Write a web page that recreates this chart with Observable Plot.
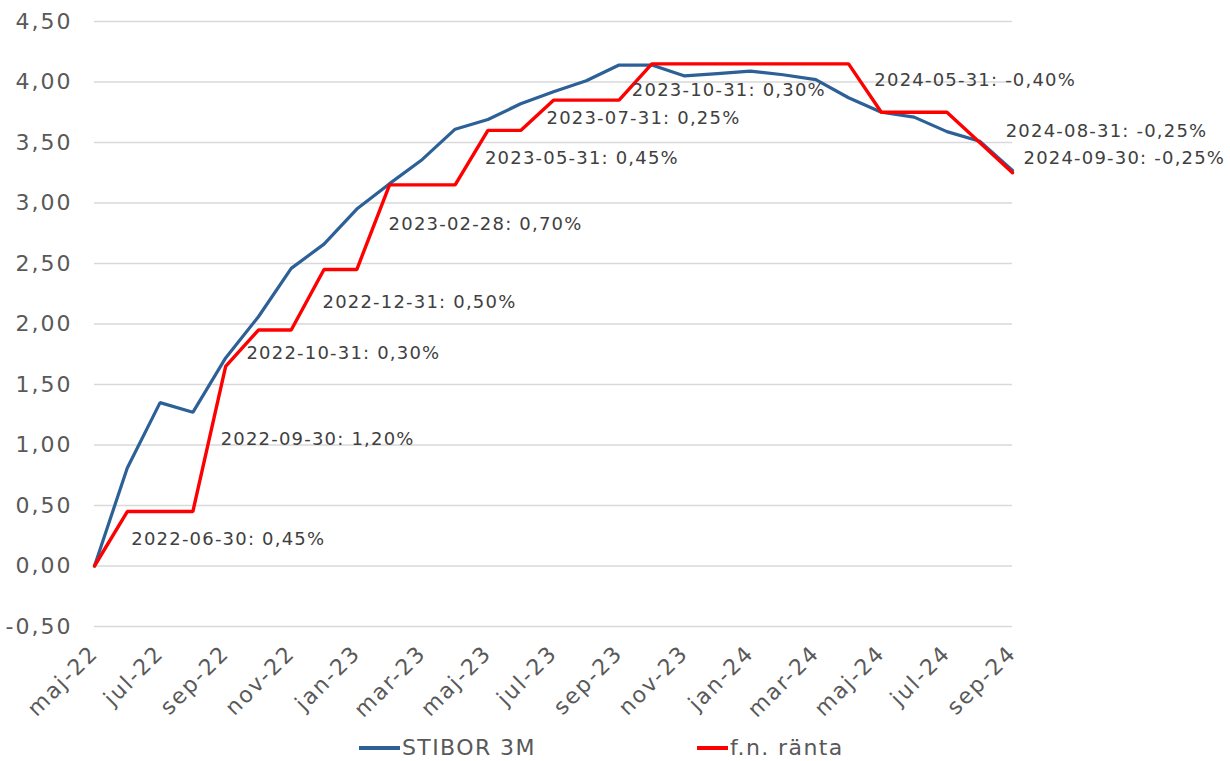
<!DOCTYPE html>
<html>
<head>
<meta charset="utf-8">
<script src="https://cdn.jsdelivr.net/npm/d3@7"></script>
<script src="https://cdn.jsdelivr.net/npm/@observablehq/plot@0.6"></script>
<style>
  html, body { margin: 0; padding: 0; background: #fff; overflow: hidden; }
  #wrap { position: relative; width: 1230px; height: 761px; font-family: "DejaVu Sans", sans-serif; }
  #chart svg { display: block; }
  g[aria-label="y-axis tick label"] text,
  g[aria-label="x-axis tick label"] text { letter-spacing: 2px; }
  g.ann text { letter-spacing: 1.2px; }
  #legend { position: absolute; top: 735px; left: 0; width: 1230px; height: 26px; }
  .item { position: absolute; top: 0; height: 26px; display: flex; align-items: center;
          font-size: 22px; line-height: 1; letter-spacing: 1.4px; color: #595959; }
  .sw { display: inline-block; height: 4px; margin-right: 2px; }
</style>
</head>
<body>
<div id="wrap">
  <div id="chart"></div>
  <div id="legend"></div>
</div>
<script>
// ---- data ----
const months = ["maj-22","jun-22","jul-22","aug-22","sep-22","okt-22","nov-22","dec-22",
  "jan-23","feb-23","mar-23","apr-23","maj-23","jun-23","jul-23","aug-23","sep-23","okt-23",
  "nov-23","dec-23","jan-24","feb-24","mar-24","apr-24","maj-24","jun-24","jul-24","aug-24","sep-24"];
const stibor3m = [0.00,0.81,1.35,1.27,1.72,2.06,2.46,2.66,2.95,3.16,3.36,3.61,3.69,3.82,3.92,4.01,
  4.14,4.14,4.05,4.07,4.09,4.06,4.02,3.87,3.75,3.71,3.59,3.51,3.27];
const fnRanta = [0.00,0.45,0.45,0.45,1.65,1.95,1.95,2.45,2.45,3.15,3.15,3.15,3.60,3.60,3.85,3.85,
  3.85,4.15,4.15,4.15,4.15,4.15,4.15,4.15,3.75,3.75,3.75,3.50,3.25];
const xTickLabels = ["maj-22","jul-22","sep-22","nov-22","jan-23","mar-23","maj-23","jul-23",
  "sep-23","nov-23","jan-24","mar-24","maj-24","jul-24","sep-24"];
const yTicks = [-0.5,0,0.5,1,1.5,2,2.5,3,3.5,4,4.5];
const annMonths = ["jun-22","sep-22","okt-22","dec-22","feb-23","maj-23","jul-23","okt-23","maj-24","aug-24","sep-24"];
const annTexts = ["2022-06-30: 0,45%","2022-09-30: 1,20%","2022-10-31: 0,30%","2022-12-31: 0,50%",
  "2023-02-28: 0,70%","2023-05-31: 0,45%","2023-07-31: 0,25%","2023-10-31: 0,30%",
  "2024-05-31: -0,40%","2024-08-31: -0,25%","2024-09-30: -0,25%"];
const seriesNames = ["STIBOR 3M","f.n. ränta"];

// ---- layout (label offsets from their data point, px) ----
const annOffsets = [[4,28],[-5,73],[-12,23],[-1.5,33],[-1,39],[-3,27.5],[-7,18.5],[-20,26],[-7,-32],[26,-11],[11,-15]];
const colors = ["#2C6096", "#FF0000"];

const idx = m => months.indexOf(m);
const rows = months.map((m, i) => ({i, stibor: stibor3m[i], fn: fnRanta[i]}));
const fmt = d => d.toFixed(2).replace(".", ",");

const annMarks = annMonths.map((m, k) => {
  const i = idx(m);
  return Plot.text([{i, v: fnRanta[i], t: annTexts[k]}], {
    x: "i", y: "v", text: "t", dx: annOffsets[k][0], dy: annOffsets[k][1],
    textAnchor: "start", lineAnchor: "middle", fontSize: 18, fill: "#404040",
    className: "ann"
  });
});

const chart = Plot.plot({
  width: 1230,
  height: 740,
  marginLeft: 94,
  marginRight: 218,
  marginTop: 21,
  marginBottom: 114,
  style: {fontFamily: "DejaVu Sans, sans-serif", color: "#595959", background: "#fff"},
  x: {type: "linear", domain: [0, months.length - 1]},
  y: {domain: [-0.5, 4.5]},
  marks: [
    Plot.ruleY(yTicks, {stroke: "#d9d9d9", strokeWidth: 1.5}),
    Plot.axisY({ticks: yTicks, tickFormat: fmt, tickSize: 0, tickPadding: 22, fontSize: 22, label: null, fill: "#595959"}),
    Plot.axisX({ticks: xTickLabels.map(idx), tickFormat: i => months[i], tickRotate: -45, tickSize: 0, tickPadding: 23, fontSize: 22, label: null, fill: "#595959"}),
    Plot.line(rows, {x: "i", y: "stibor", stroke: colors[0], strokeWidth: 3.2, strokeLinejoin: "miter"}),
    Plot.line(rows, {x: "i", y: "fn", stroke: colors[1], strokeWidth: 3.4, strokeLinejoin: "miter"}),
    ...annMarks
  ]
});
document.getElementById("chart").appendChild(chart);

// legend
const legend = document.getElementById("legend");
const legendPos = [[359, 41], [697, 31]];
seriesNames.forEach((name, i) => {
  const it = document.createElement("div");
  it.className = "item";
  it.style.left = legendPos[i][0] + "px";
  const sw = document.createElement("span");
  sw.className = "sw";
  sw.style.width = legendPos[i][1] + "px";
  sw.style.background = colors[i];
  it.appendChild(sw);
  it.appendChild(document.createTextNode(name));
  legend.appendChild(it);
});
</script>
</body>
</html>
